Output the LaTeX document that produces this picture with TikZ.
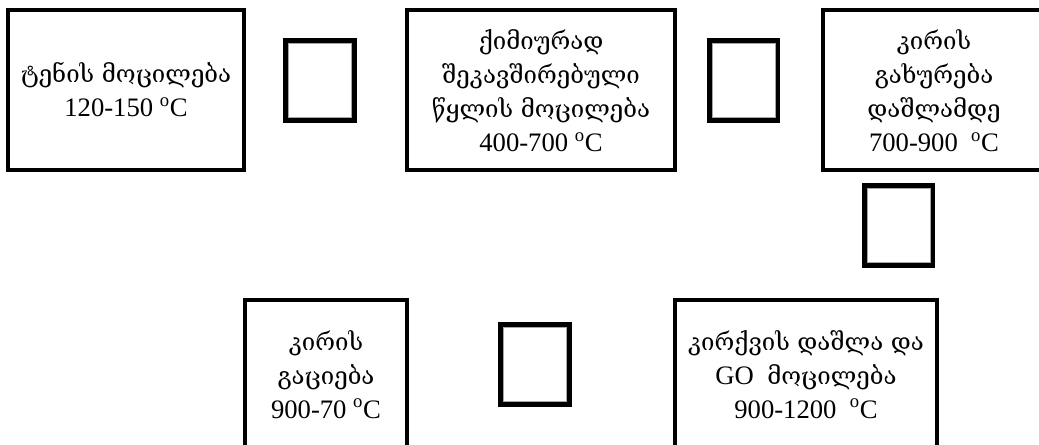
\documentclass[tikz,border=0pt]{standalone}
\usepackage{fontspec}
\setmainfont{Liberation Serif}
\newfontfamily\ka[Scale=0.9]{DejaVu Serif}
\newcommand{\dgc}{\textsuperscript{o}C}
\begin{document}
\begin{tikzpicture}[x=0.75pt,y=-0.75pt,
  box/.style={draw=black, line width=3pt, outer sep=0pt, inner sep=0pt},
  sqbox/.style={draw=black, line width=3.75pt, outer sep=0pt, inner sep=0pt, minimum width=51.5pt, minimum height=60pt},
  sqin/.style={draw=gray!70, line width=0.6pt},
  txt/.style={align=center, anchor=base, inner sep=0pt, font=\fontsize{20}{25.5}\selectfont}]
\useasboundingbox (0,0) rectangle (1039,445);
\clip (0,0) rectangle (1039,445);
% boxes
\node[box, minimum width=177pt, minimum height=120pt] (b1) at (126,90) {};
\node[box, minimum width=201pt, minimum height=120pt] (b2) at (541,90) {};
\node[box, minimum width=166.5pt, minimum height=120pt] (b3) at (934,90) {};
\node[box, minimum width=121.5pt, minimum height=120pt] (b4) at (326,380) {};
\node[box, minimum width=196.5pt, minimum height=120pt] (b5) at (806,380) {};
% squares
\node[sqbox] (s1) at (320,80.5) {};
\node[sqbox] (s2) at (743.5,80.5) {};
\node[sqbox] (s3) at (898.5,225.5) {};
\node[sqbox] (s4) at (535,364.5) {};
\foreach \s in {s1,s2,s3,s4}
  \draw[sqin] ([shift={(2.2pt,-2.2pt)}]\s.north west) rectangle ([shift={(-2.2pt,2.2pt)}]\s.south east);
% texts (anchor = baseline of the last line)
\node[txt] (t1) at (126,117) {{\ka ტენის მოცილება}\\120-150 \dgc};
\node[txt] (t2) at (541,152) {{\ka ქიმიურად}\\{\ka შეკავშირებული}\\{\ka წყლის მოცილება}\\400-700 \dgc};
\node[txt] (t3) at (934,152) {{\ka კირის}\\{\ka გახურება}\\{\ka დაშლამდე}\\700-900\ \ \dgc};
\node[txt] (t4) at (326,418) {{\ka კირის}\\{\ka გაციება}\\900-70 \dgc};
\node[txt] (t5) at (806,418) {{\ka კირქვის დაშლა და}\\GO\ \ {\ka მოცილება}\\900-1200\ \ \dgc};
\end{tikzpicture}
\end{document}
